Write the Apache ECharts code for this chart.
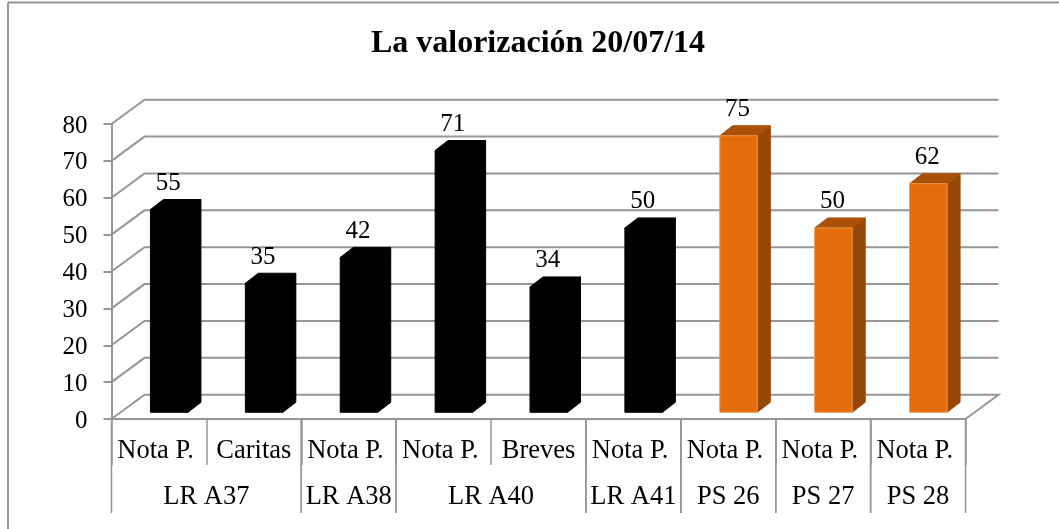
<!DOCTYPE html>
<html>
<head>
<meta charset="utf-8">
<style>html,body{margin:0;padding:0;background:#fff}#c{width:1059px;height:529px}</style>
<script src="https://cdn.jsdelivr.net/npm/echarts@6/dist/echarts.min.js"></script>
</head>
<body>
<div id="c"></div>
<script>
var categories = ['Nota P. ', 'Caritas', 'Nota P. ', 'Nota P. ', 'Breves', 'Nota P. ', 'Nota P. ', 'Nota P. ', 'Nota P. '];
var values = [55, 35, 42, 71, 34, 50, 75, 50, 62];
var groupNames = ['LR A37', 'LR A38', 'LR A40', 'LR A41', 'PS 26', 'PS 27', 'PS 28'];
var groupSizes = [2, 1, 2, 1, 1, 1, 1];
var yTicks = [0, 10, 20, 30, 40, 50, 60, 70, 80];

var FONT = '"Liberation Serif","Times New Roman",serif';
var GRID = '#969696';
var WALL_DX = 33, WALL_DY = 24.3;
var BAR_L = -8.5, BAR_W = 37.5, BAR_LIFT = 6.7, SIDE_DX = 13, SIDE_DY = 10;

var groupRanges = [];
(function () {
  var s = 0;
  groupSizes.forEach(function (n, g) {
    groupRanges.push([s, s + n - 1, groupNames[g]]);
    s += n;
  });
})();

function isOrange(i) {
  for (var g = 0; g < groupRanges.length; g++) {
    if (i >= groupRanges[g][0] && i <= groupRanges[g][1]) return groupRanges[g][2].indexOf('PS') === 0;
  }
  return false;
}

function poly(pts, fill, stroke) {
  return { type: 'polygon', shape: { points: pts },
    style: { fill: fill, stroke: stroke || fill, lineWidth: 1 } };
}

var option = {
  animation: false,
  backgroundColor: '#fff',
  title: {
    text: 'La valorización 20/07/14', left: 533, top: 39, textAlign: 'center', textVerticalAlign: 'middle',
    textStyle: { fontFamily: FONT, fontSize: 32, fontWeight: 'bold', color: '#000' }
  },
  graphic: [
    { type: 'line', silent: true, shape: { x1: 8, y1: 2.5, x2: 1059, y2: 2.5 }, style: { stroke: '#969696', lineWidth: 2 } },
    { type: 'line', silent: true, shape: { x1: 8, y1: 2.5, x2: 8, y2: 529 }, style: { stroke: '#969696', lineWidth: 2 } }
  ],
  grid: { left: 111.5, top: 124, width: 854, height: 295 },
  xAxis: {
    type: 'category', data: categories,
    axisLine: { lineStyle: { color: GRID, width: 2 } },
    axisTick: { show: true, alignWithLabel: false, interval: 0, length: 46, lineStyle: { color: GRID, width: 1.5 } },
    axisLabel: { interval: 0, margin: 19, fontFamily: FONT, fontSize: 26.5, color: '#000', hideOverlap: false }
  },
  yAxis: {
    type: 'value', min: 0, max: 80, interval: 10,
    axisLine: { show: true, lineStyle: { color: GRID, width: 2 } },
    axisTick: { show: true, length: 8, lineStyle: { color: GRID, width: 2 } },
    axisLabel: { margin: 24, verticalAlign: 'top', lineHeight: 4, fontFamily: FONT, fontSize: 25, color: '#000' },
    splitLine: { show: false }
  },
  series: [
    {
      type: 'custom', name: 'wall', silent: true, clip: false, z: 1,
      coordinateSystem: 'cartesian2d', data: yTicks.map(function (t) { return [0, t]; }),
      renderItem: function (params, api) {
        var r = params.coordSys, y = api.coord([0, api.value(1)])[1];
        var x0 = r.x, x1 = r.x + r.width;
        var pts = api.value(1) === yTicks[0]
          ? [[x0, y], [x0 + WALL_DX, y - WALL_DY], [x1 + WALL_DX, y - WALL_DY], [x1, y]]
          : [[x0, y], [x0 + WALL_DX, y - WALL_DY], [x1 + WALL_DX, y - WALL_DY]];
        return { type: 'polyline', shape: { points: pts }, style: { fill: 'none', stroke: GRID, lineWidth: 2 } };
      }
    },
    {
      type: 'custom', name: 'groups', silent: true, clip: false, z: 2,
      coordinateSystem: 'cartesian2d', data: groupRanges.map(function (g) { return [g[0], g[1]]; }),
      renderItem: function (params, api) {
        var g = groupRanges[params.dataIndex];
        var half = api.size([1, 0])[0] / 2;
        var a = api.coord([g[0], 0]), b = api.coord([g[1], 0]);
        var xl = a[0] - half, xr = b[0] + half, y0 = a[1];
        var line = function (x) {
          return { type: 'line', shape: { x1: x, y1: y0, x2: x, y2: 513 }, style: { stroke: GRID, lineWidth: 1.5 } };
        };
        var kids = [
          line(xl), line(xr),
          { type: 'text', style: { text: g[2], x: (xl + xr) / 2, y: 497.5, align: 'center', verticalAlign: 'middle',
              font: '26.5px ' + FONT, fill: '#000' } }
        ];
        return { type: 'group', children: kids };
      }
    },
    {
      type: 'custom', name: 'La valorización', clip: false, z: 3,
      coordinateSystem: 'cartesian2d', encode: { x: 0, y: 1 },
      data: values.map(function (v, i) { return [i, v]; }),
      renderItem: function (params, api) {
        var i = api.value(0), v = api.value(1);
        var top = api.coord([i, v]), base = api.coord([i, 0]);
        var l = top[0] + BAR_L, r = l + BAR_W, t = top[1] - BAR_LIFT, b = base[1] - BAR_LIFT;
        var orange = isOrange(i);
        var front = poly([[l, t], [r, t], [r, b], [l, b]], orange ? '#E46C0A' : '#000', orange ? '#EC9A57' : null);
        var side = poly([[r, t], [r + SIDE_DX, t - SIDE_DY], [r + SIDE_DX, b - SIDE_DY], [r, b]], orange ? '#964705' : '#000');
        var cap = poly([[l, t], [l + SIDE_DX, t - SIDE_DY], [r + SIDE_DX, t - SIDE_DY], [r, t]], orange ? '#AB5107' : '#000');
        var label = { type: 'text', style: { text: String(v), x: (l + r) / 2 - 1, y: t - 26, align: 'center', verticalAlign: 'middle',
          font: '25px ' + FONT, fill: '#000' } };
        return { type: 'group', children: [side, cap, front, label] };
      }
    }
  ]
};
var chart = echarts.init(document.getElementById('c'), null, { renderer: 'canvas' });
chart.setOption(option);
</script>
</body>
</html>
